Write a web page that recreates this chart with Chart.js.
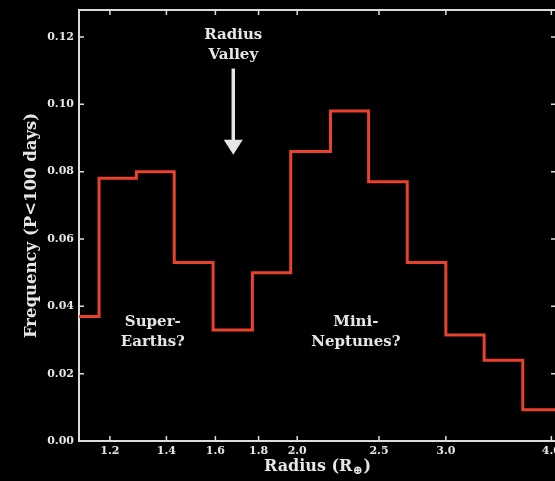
<!DOCTYPE html>
<html>
<head>
<meta charset="utf-8">
<script src="https://cdn.jsdelivr.net/npm/chart.js@4.4.1/dist/chart.umd.min.js"></script>
<style>
  html, body { margin: 0; padding: 0; background: #000; }
  #radiusChart { display: block; }
</style>
</head>
<body>
<canvas id="radiusChart" width="555" height="481"></canvas>
<script>
// bordi dei bin (scala log) e frequenze per bin
const binEdges = [1.05, 1.165, 1.29, 1.43, 1.59, 1.77, 1.965, 2.19, 2.43, 2.70, 3.00, 3.33, 3.70, 4.20];
const frequency = [0.037, 0.078, 0.080, 0.053, 0.033, 0.050, 0.086, 0.098, 0.077, 0.053, 0.0315, 0.024, 0.0093];
const xTicks = [1.2, 1.4, 1.6, 1.8, 2.0, 2.5, 3.0, 4.0];
const yTicks = [0.00, 0.02, 0.04, 0.06, 0.08, 0.10, 0.12];

const FONT = '"DejaVu Serif", "Liberation Serif", serif';
const TEXT = '#e6e6e6';
const AXIS = '#dcdcdc';

document.addEventListener("DOMContentLoaded", function () {
    const ctx = document.getElementById('radiusChart').getContext('2d');

    // un punto per ogni bordo, l'ultimo ripete il valore finale
    const points = binEdges.map(function (edge, i) {
        return { x: edge, y: frequency[Math.min(i, frequency.length - 1)] };
    });

    // tacche interne sui quattro lati + bordo superiore
    const frameTicks = {
        id: 'frameTicks',
        afterDraw(chart) {
            const { ctx, chartArea: a, scales: { x, y } } = chart;
            ctx.save();
            ctx.strokeStyle = AXIS;
            ctx.lineWidth = 2;
            ctx.beginPath();
            ctx.moveTo(a.left - 1, a.top);
            ctx.lineTo(a.right, a.top);
            ctx.stroke();
            ctx.lineWidth = 1.5;
            xTicks.forEach(function (v) {
                const px = x.getPixelForValue(v);
                ctx.beginPath();
                ctx.moveTo(px, a.bottom); ctx.lineTo(px, a.bottom - 5);
                ctx.moveTo(px, a.top); ctx.lineTo(px, a.top + 5);
                ctx.stroke();
            });
            yTicks.forEach(function (v) {
                const py = y.getPixelForValue(v);
                ctx.beginPath();
                ctx.moveTo(a.left, py); ctx.lineTo(a.left + 5, py);
                ctx.moveTo(a.right, py); ctx.lineTo(a.right - 4, py);
                ctx.stroke();
            });
            ctx.restore();
        }
    };

    // testi, freccia e titolo asse x con pedice
    const notes = {
        id: 'notes',
        afterDraw(chart) {
            const { ctx, chartArea: a, scales: { x, y } } = chart;
            ctx.save();
            ctx.fillStyle = TEXT;
            ctx.strokeStyle = TEXT;
            ctx.font = 'bold 15px ' + FONT;
            ctx.textAlign = 'center';
            ctx.textBaseline = 'middle';

            const vx = x.getPixelForValue(1.68);
            ctx.fillText('Radius', vx, y.getPixelForValue(0.1204));
            ctx.fillText('Valley', vx, y.getPixelForValue(0.1145));

            // freccia
            const yTop = y.getPixelForValue(0.1106);
            const yTip = y.getPixelForValue(0.085);
            ctx.lineWidth = 3.5;
            ctx.beginPath();
            ctx.moveTo(vx, yTop);
            ctx.lineTo(vx, yTip - 12);
            ctx.stroke();
            ctx.beginPath();
            ctx.moveTo(vx - 9.5, yTip - 15);
            ctx.lineTo(vx + 9.5, yTip - 15);
            ctx.lineTo(vx, yTip);
            ctx.closePath();
            ctx.fill();

            const sx = x.getPixelForValue(1.349);
            ctx.fillText('Super-', sx, y.getPixelForValue(0.0354));
            ctx.fillText('Earths?', sx, y.getPixelForValue(0.0294));

            const mx = x.getPixelForValue(2.347);
            ctx.fillText('Mini-', mx, y.getPixelForValue(0.0354));
            ctx.fillText('Neptunes?', mx, y.getPixelForValue(0.0294));

            // titolo asse x: Radius (R⊕)
            const cx = (a.left + a.right) / 2;
            const ty = 467;
            const main = 'Radius (R';
            ctx.font = 'bold 16px ' + FONT;
            const w1 = ctx.measureText(main).width;
            const w3 = ctx.measureText(')').width;
            ctx.font = 'bold 12px ' + FONT;
            const w2 = ctx.measureText('⊕').width;
            const sx0 = cx - (w1 + w2 + w3) / 2;
            ctx.textAlign = 'left';
            ctx.font = 'bold 16px ' + FONT;
            ctx.fillText(main, sx0, ty);
            ctx.font = 'bold 12px ' + FONT;
            ctx.fillText('⊕', sx0 + w1, ty + 4);
            ctx.font = 'bold 16px ' + FONT;
            ctx.fillText(')', sx0 + w1 + w2 + 1, ty);
            ctx.restore();
        }
    };

    new Chart(ctx, {
        type: 'line',
        data: {
            datasets: [{
                data: points,
                stepped: 'before',
                borderColor: '#e8412c',
                borderWidth: 3,
                pointRadius: 0,
                fill: false,
                clip: 0
            }]
        },
        options: {
            responsive: false,
            animation: false,
            devicePixelRatio: 1,
            layout: { padding: { top: 10, left: 0, right: 0, bottom: 0 } },
            plugins: { legend: { display: false }, tooltip: { enabled: false } },
            scales: {
                x: {
                    type: 'logarithmic',
                    min: 1.103,
                    max: 4.04,
                    grid: { display: true, drawOnChartArea: false, drawTicks: false },
                    border: { display: true, color: AXIS, width: 2 },
                    ticks: {
                        color: TEXT,
                        font: { family: FONT, size: 11, weight: 'bold' },
                        padding: 4,
                        autoSkip: false,
                        maxRotation: 0,
                        callback: function (v) { return Number(v).toFixed(1); }
                    },
                    afterBuildTicks: function (scale) {
                        scale.ticks = xTicks.map(function (v) { return { value: v }; });
                    },
                    afterFit: function (scale) {
                        scale.height = 40;
                        scale.paddingLeft = 0;
                        scale.paddingRight = 0;
                    }
                },
                y: {
                    type: 'linear',
                    min: 0,
                    max: 0.128,
                    grid: { display: true, drawOnChartArea: false, drawTicks: false },
                    border: { display: true, color: AXIS, width: 2 },
                    ticks: {
                        color: TEXT,
                        font: { family: FONT, size: 11, weight: 'bold' },
                        padding: 5,
                        callback: function (v) { return Number(v).toFixed(2); }
                    },
                    afterBuildTicks: function (scale) {
                        scale.ticks = yTicks.map(function (v) { return { value: v }; });
                    },
                    afterFit: function (scale) {
                        scale.width = 79;
                        scale.paddingTop = 0;
                        scale.paddingBottom = 0;
                    },
                    title: {
                        display: true,
                        text: 'Frequency (P<100 days)',
                        color: TEXT,
                        font: { family: FONT, size: 16.5, weight: 'bold' },
                        padding: { top: 22, bottom: 0 }
                    }
                }
            }
        },
        plugins: [frameTicks, notes]
    });
});
</script>
</body>
</html>
